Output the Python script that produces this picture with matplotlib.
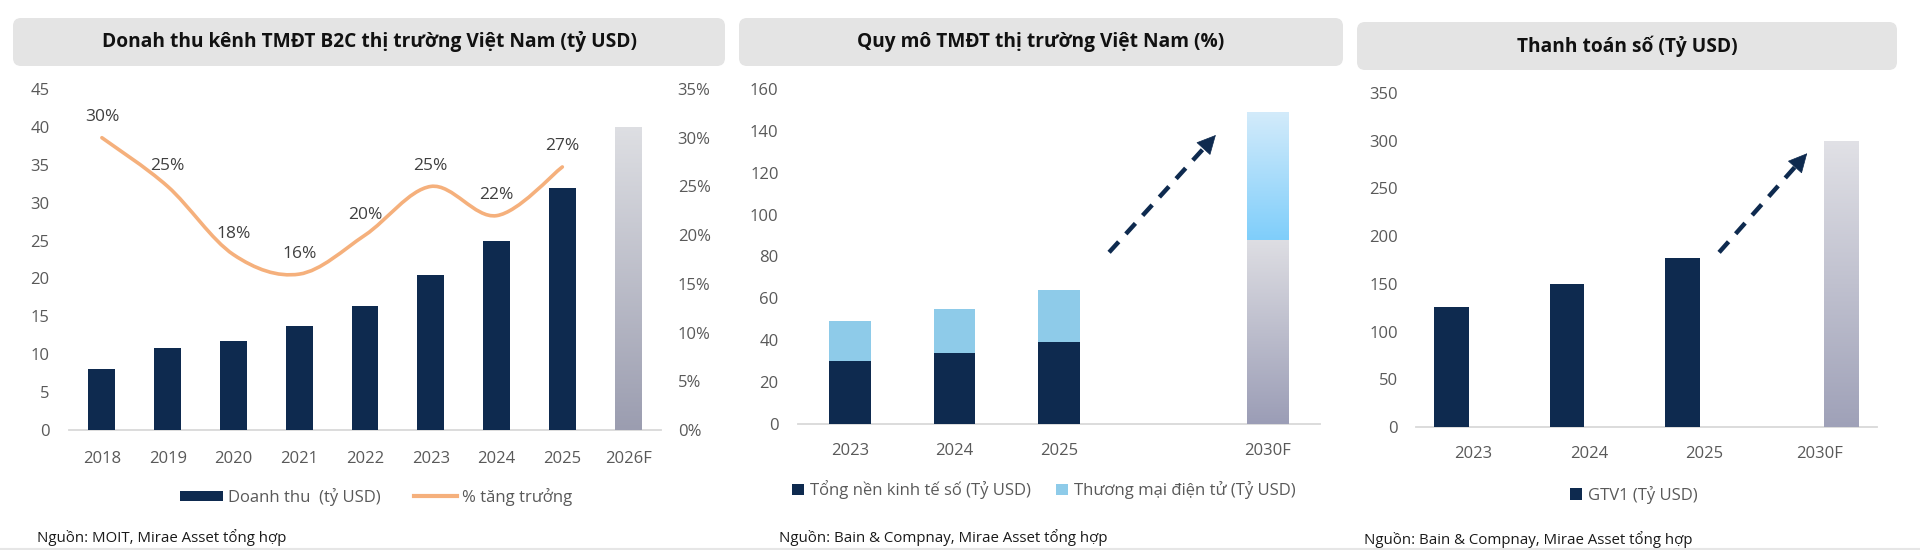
import numpy as np
import matplotlib
matplotlib.use("Agg")
import matplotlib.pyplot as plt
from matplotlib.patches import FancyBboxPatch, Patch
from matplotlib.lines import Line2D
from matplotlib.path import Path
from matplotlib.patches import PathPatch
from matplotlib.colors import LinearSegmentedColormap
from matplotlib.transforms import IdentityTransform

plt.rcParams['font.family'] = ['Open Sans', 'DejaVu Sans']

# ---------------- data ----------------
years1 = ['2018', '2019', '2020', '2021', '2022', '2023', '2024', '2025', '2026F']
revenue = [8.0, 10.8, 11.8, 13.7, 16.4, 20.5, 25.0, 32.0]
revenue_forecast = 40.0
growth = [30, 25, 18, 16, 20, 25, 22, 27]

years2 = ['2023', '2024', '2025', '', '2030F']
digital_economy = [30, 34, 39]
ecommerce = [19, 21, 25]
digital_economy_forecast = 88
ecommerce_forecast = 61

years3 = ['2023', '2024', '2025', '2030F']
gtv = [126, 150, 177]
gtv_forecast = 300

titles = ['Donah thu kênh TMĐT B2C thị trường Việt Nam (tỷ USD)',
          'Quy mô TMĐT thị trường Việt Nam (%)',
          'Thanh toán số (Tỷ USD)']
sources = ['Nguồn: MOIT, Mirae Asset tổng hợp',
           'Nguồn: Bain & Compnay, Mirae Asset tổng hợp',
           'Nguồn: Bain & Compnay, Mirae Asset tổng hợp']

NAVY = '#0e2a4f'
LBLUE = '#8ecbe9'
ORANGE = '#f5b07c'
TICK = '#595959'
AXLINE = '#d9d9d9'

W, H = 1920, 550
fig = plt.figure(figsize=(19.2, 5.5), dpi=100)
fig.patch.set_facecolor('white')


def ax_px(x0, x1, ytop, ybot):
    return fig.add_axes([x0 / W, (H - ybot) / H, (x1 - x0) / W, (ybot - ytop) / H])


def title_box(x0, x1, ytop, ybot, text):
    box = FancyBboxPatch((x0 + 8, H - ybot + 8), (x1 - x0) - 16, (ybot - ytop) - 16,
                         boxstyle='round,pad=8', transform=IdentityTransform(),
                         facecolor='#e4e4e4', edgecolor='none', zorder=0)
    fig.patches.append(box)
    fig.text((x0 + x1) / 2 / W, (H - (ytop + ybot) / 2) / H, text, ha='center', va='center',
             fontsize=13.8, fontweight='bold', color='#111111')


def style_axes(ax):
    for s in ['top', 'right', 'left']:
        ax.spines[s].set_visible(False)
    ax.spines['bottom'].set_color(AXLINE)
    ax.spines['bottom'].set_linewidth(1.3)
    ax.tick_params(axis='both', length=0, labelsize=12, labelcolor=TICK)
    ax.set_facecolor('none')


def gradient_fill(ax, rect, top_color, bottom_color):
    x0, y0 = rect.get_x(), rect.get_y()
    w, h = rect.get_width(), rect.get_height()
    cmap = LinearSegmentedColormap.from_list('g', [bottom_color, top_color])
    grad = np.linspace(0, 1, 256).reshape(-1, 1)
    im = ax.imshow(grad, extent=(x0, x0 + w, y0, y0 + h), origin='lower', cmap=cmap,
                   aspect='auto', zorder=rect.get_zorder(), interpolation='bilinear')
    im.set_clip_path(rect)
    rect.set_facecolor('none')


def dashed_arrow(ax, start, end):
    sx, sy = start
    ex, ey = end
    fx = sx + (ex - sx) * 0.90
    fy = sy + (ey - sy) * 0.90
    ax.plot([sx, fx], [sy, fy], color=NAVY, lw=3.2, linestyle=(0, (3.2, 2.4)),
            solid_capstyle='butt', dash_capstyle='butt', zorder=5)
    ax.annotate('', xy=(ex, ey), xytext=(fx, fy),
                arrowprops=dict(arrowstyle='-|>,head_length=0.9,head_width=0.45',
                                color=NAVY, lw=0.5, mutation_scale=14), zorder=6)


def smooth_path(xs, ys):
    pts = np.column_stack([xs, ys]).astype(float)
    n = len(pts)
    verts = [pts[0]]
    codes = [Path.MOVETO]
    for i in range(n - 1):
        p0 = pts[i - 1] if i > 0 else pts[i]
        p1 = pts[i]
        p2 = pts[i + 1]
        p3 = pts[i + 2] if i + 2 < n else pts[i + 1]
        c1 = p1 + (p2 - p0) / 6.0
        c2 = p2 - (p3 - p1) / 6.0
        verts += [c1, c2, p2]
        codes += [Path.CURVE4] * 3
    return Path(verts, codes)


# ---------------- panel 1 ----------------
title_box(13, 725, 18, 66, titles[0])
ax1 = ax_px(69, 661, 89, 430)
style_axes(ax1)
x1 = np.arange(len(years1))
ax1.bar(x1[:len(revenue)], revenue, width=0.41, color=NAVY, zorder=3)
fb = ax1.bar([x1[-1]], [revenue_forecast], width=0.41, color='#cccccc', zorder=3)
gradient_fill(ax1, fb.patches[0], '#dedfe3', '#9b9db0')
ax1.set_xlim(-0.5, len(years1) - 0.5)
ax1.set_ylim(0, 45)
ax1.set_yticks(np.arange(0, 46, 5))
ax1.set_xticks(x1)
ax1.set_xticklabels(years1)
ax1.tick_params(axis='x', pad=15)
ax1.tick_params(axis='y', pad=14)

ax1b = ax1.twinx()
style_axes(ax1b)
ax1b.spines['bottom'].set_visible(False)
ax1b.set_ylim(0, 35)
ax1b.set_yticks(np.arange(0, 36, 5))
ax1b.set_yticklabels([f'{v}%' for v in range(0, 36, 5)])
ax1b.tick_params(axis='y', pad=12)
gx = x1[:len(growth)]
ax1b.add_patch(PathPatch(smooth_path(gx, growth), facecolor='none', edgecolor=ORANGE,
                         lw=2.6, zorder=4, capstyle='round'))
for xi, g in zip(gx, growth):
    ax1b.annotate(f'{g}%', (xi, g), xytext=(0, 9), textcoords='offset points',
                  ha='center', va='bottom', fontsize=12.5, color='#404040')

fig.legend(handles=[Patch(facecolor=NAVY, edgecolor='none', label='Doanh thu  (tỷ USD)'),
                    Line2D([], [], color=ORANGE, lw=3, label='% tăng trưởng')],
           loc='center', bbox_to_anchor=(376 / W, (H - 497) / H), ncol=2, frameon=False,
           fontsize=12, handlelength=2.6, handleheight=0.6, handletextpad=0.3,
           columnspacing=2.0, labelcolor=TICK)

# ---------------- panel 2 ----------------
title_box(739, 1343, 18, 66, titles[1])
ax2 = ax_px(798, 1320, 89, 424)
style_axes(ax2)
x2 = np.arange(len(years2))
n2 = len(digital_economy)
ax2.bar(x2[:n2], digital_economy, width=0.40, color=NAVY, zorder=3)
ax2.bar(x2[:n2], ecommerce, bottom=digital_economy, width=0.40, color=LBLUE, zorder=3)
fb_lo = ax2.bar([x2[-1]], [digital_economy_forecast], width=0.40, color='#cccccc', zorder=3)
fb_hi = ax2.bar([x2[-1]], [ecommerce_forecast], bottom=[digital_economy_forecast], width=0.40,
                color='#cccccc', zorder=3)
gradient_fill(ax2, fb_lo.patches[0], '#dedee3', '#9b9db6')
gradient_fill(ax2, fb_hi.patches[0], '#d3ebfb', '#7fcefa')
ax2.set_xlim(-0.5, len(years2) - 0.5)
ax2.set_ylim(0, 160)
ax2.set_yticks(np.arange(0, 161, 20))
ax2.set_xticks(x2)
ax2.set_xticklabels(years2)
ax2.tick_params(axis='x', pad=14)
ax2.tick_params(axis='y', pad=14)
dashed_arrow(ax2, (2.48, 82), (3.52, 139))

fig.legend(handles=[Patch(facecolor=NAVY, edgecolor='none', label='Tổng nền kinh tế số (Tỷ USD)'),
                    Patch(facecolor=LBLUE, edgecolor='none', label='Thương mại điện tử (Tỷ USD)')],
           loc='center', bbox_to_anchor=(1044 / W, (H - 490) / H), ncol=2, frameon=False,
           fontsize=12, handlelength=0.7, handleheight=0.7, handletextpad=0.4,
           columnspacing=1.5, labelcolor=TICK)

# ---------------- panel 3 ----------------
title_box(1357, 1897, 22, 70, titles[2])
ax3 = ax_px(1416, 1877, 93, 427)
style_axes(ax3)
x3 = np.arange(len(years3))
n3 = len(gtv)
ax3.bar(x3[:n3] - 0.19, gtv, width=0.30, color=NAVY, zorder=3)
fb3 = ax3.bar([x3[-1] + 0.19], [gtv_forecast], width=0.30, color='#cccccc', zorder=3)
gradient_fill(ax3, fb3.patches[0], '#e1e1e6', '#9fa1b8')
ax3.set_xlim(-0.5, len(years3) - 0.5)
ax3.set_ylim(0, 350)
ax3.set_yticks(np.arange(0, 351, 50))
ax3.set_xticks(x3)
ax3.set_xticklabels(years3)
ax3.tick_params(axis='x', pad=14)
ax3.tick_params(axis='y', pad=13)
dashed_arrow(ax3, (2.13, 183), (2.91, 289))

fig.legend(handles=[Patch(facecolor=NAVY, edgecolor='none', label='GTV1 (Tỷ USD)')],
           loc='center', bbox_to_anchor=(1634 / W, (H - 495) / H), frameon=False,
           fontsize=12, handlelength=0.7, handleheight=0.7, handletextpad=0.4,
           labelcolor=TICK)

# ---------------- sources ----------------
for xs, ys, txt in [(37, 538, sources[0]), (779, 538, sources[1]), (1364, 540, sources[2])]:
    fig.text(xs / W, (H - ys) / H, txt, ha='left', va='center', fontsize=10.8, color='#1a1a1a')

fig.add_artist(Line2D([0, 1], [1.5 / H, 1.5 / H], transform=fig.transFigure,
                      color='#e6e6e6', lw=1.5))

fig.savefig('out.png', dpi=100)
